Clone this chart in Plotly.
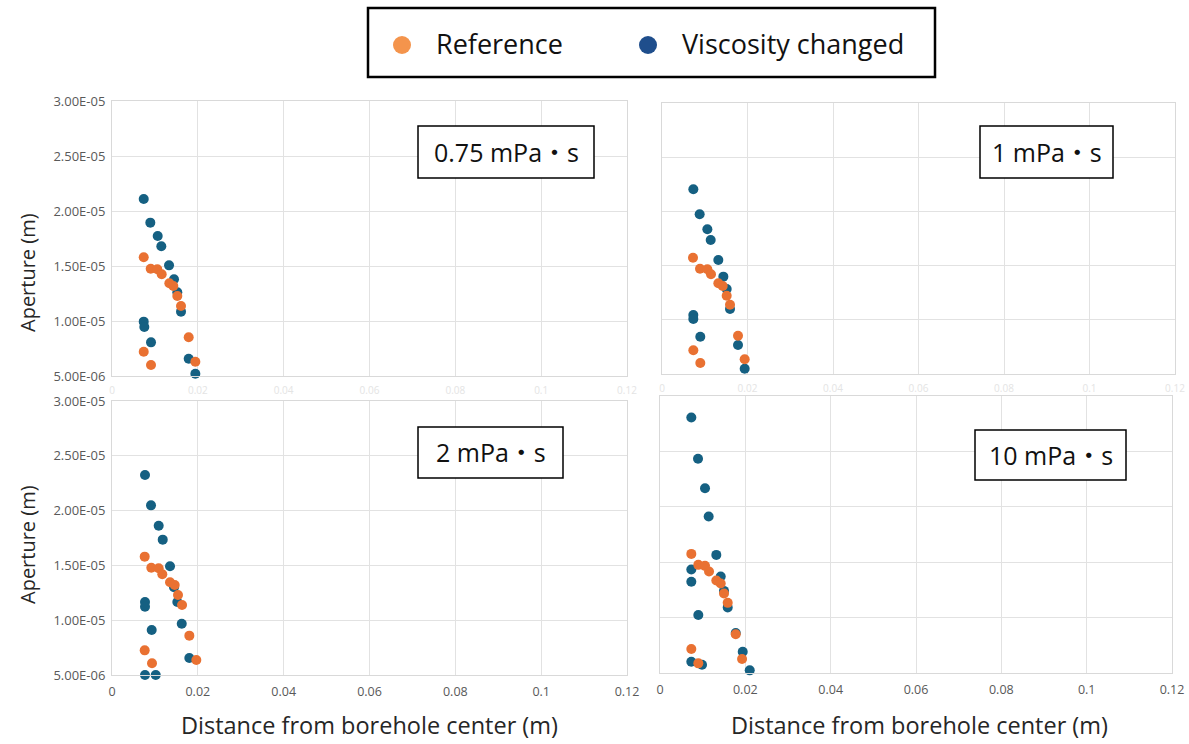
import plotly.graph_objects as go

# ---------------- data (x: distance from borehole center [m], y: aperture [m]) ----------------
ref_075_x = [0.00739, 0.00902, 0.01056, 0.01158, 0.01336, 0.01429, 0.01522, 0.01608, 0.01787, 0.00739, 0.01942, 0.00909]
ref_075_y = [15.79e-6, 14.75e-6, 14.70e-6, 14.25e-6, 13.43e-6, 13.18e-6, 12.27e-6, 11.36e-6, 8.52e-6, 7.21e-6, 6.30e-6, 6.00e-6]
vis_075_x = [0.00739, 0.00893, 0.01065, 0.01149, 0.01329, 0.01445, 0.01522, 0.01608, 0.00739, 0.00753, 0.00909, 0.01787, 0.01942]
vis_075_y = [21.09e-6, 18.94e-6, 17.73e-6, 16.79e-6, 15.06e-6, 13.79e-6, 12.61e-6, 10.85e-6, 9.94e-6, 9.45e-6, 8.06e-6, 6.57e-6, 5.21e-6]

ref_1_x = [0.00725, 0.00889, 0.01061, 0.01146, 0.01318, 0.01420, 0.01513, 0.01591, 0.01778, 0.00733, 0.01934, 0.00896]
ref_1_y = [15.73e-6, 14.71e-6, 14.66e-6, 14.20e-6, 13.37e-6, 13.12e-6, 12.22e-6, 11.39e-6, 8.53e-6, 7.19e-6, 6.36e-6, 6.01e-6]
vis_1_x = [0.00733, 0.00881, 0.01061, 0.01139, 0.01318, 0.01435, 0.01513, 0.01591, 0.00733, 0.00733, 0.00896, 0.01778, 0.01934]
vis_1_y = [22.04e-6, 19.73e-6, 18.35e-6, 17.36e-6, 15.52e-6, 13.98e-6, 12.84e-6, 11.00e-6, 10.44e-6, 10.07e-6, 8.44e-6, 7.68e-6, 5.49e-6]

ref_2_x = [0.00762, 0.00916, 0.01088, 0.01172, 0.01352, 0.01461, 0.01538, 0.01632, 0.01802, 0.00762, 0.01965, 0.00932]
ref_2_y = [15.80e-6, 14.79e-6, 14.74e-6, 14.20e-6, 13.46e-6, 13.21e-6, 12.30e-6, 11.39e-6, 8.59e-6, 7.25e-6, 6.37e-6, 6.07e-6]
vis_2_x = [0.00769, 0.00909, 0.01088, 0.01182, 0.01352, 0.01445, 0.01522, 0.00769, 0.00769, 0.01625, 0.00925, 0.01802, 0.00769, 0.01019]
vis_2_y = [23.25e-6, 20.48e-6, 18.62e-6, 17.35e-6, 14.92e-6, 13.00e-6, 11.66e-6, 11.66e-6, 11.23e-6, 9.68e-6, 9.10e-6, 6.55e-6, 5.00e-6, 5.00e-6]

ref_10_x = [0.00734, 0.00898, 0.01055, 0.01149, 0.01320, 0.01423, 0.01500, 0.01587, 0.01775, 0.00734, 0.01923, 0.00898]
ref_10_y = [15.75e-6, 14.76e-6, 14.67e-6, 14.16e-6, 13.35e-6, 13.08e-6, 12.18e-6, 11.33e-6, 8.49e-6, 7.16e-6, 6.26e-6, 5.87e-6]
vis_10_x = [0.00734, 0.00891, 0.01055, 0.01141, 0.01320, 0.00734, 0.00734, 0.01423, 0.01500, 0.01587, 0.00898, 0.01775, 0.01939, 0.00734, 0.00985, 0.02103]
vis_10_y = [28.06e-6, 24.34e-6, 21.67e-6, 19.12e-6, 15.66e-6, 14.34e-6, 13.23e-6, 13.71e-6, 12.41e-6, 10.92e-6, 10.23e-6, 8.60e-6, 6.92e-6, 6.02e-6, 5.75e-6, 5.24e-6]

panel_labels = ["0.75 mPa・s", "1 mPa・s", "2 mPa・s", "10 mPa・s"]
series_names = ["Reference", "Viscosity changed"]

x_tick_vals = [0, 0.02, 0.04, 0.06, 0.08, 0.1, 0.12]
x_tick_text = ["0", "0.02", "0.04", "0.06", "0.08", "0.1", "0.12"]
y_tick_vals = [5e-6, 1e-5, 1.5e-5, 2e-5, 2.5e-5, 3e-5]
y_tick_text = ["5.00E-06", "1.00E-05", "1.50E-05", "2.00E-05", "2.50E-05", "3.00E-05"]

x_title = "Distance from borehole center (m)"
y_title = "Aperture (m)"

# ---------------- layout helpers ----------------
W, H = 1189, 744
FONT = "Open Sans, Noto Sans CJK JP, sans-serif"
ORANGE = "#E97132"
BLUE = "#156082"
LEG_ORANGE = "#F4944C"
LEG_BLUE = "#1F4E8C"


def fx(p):
    return p / W


def fy(p):
    return 1 - p / H


# panel frames in pixels: (left, right, top, bottom)
frames = [
    (112, 627, 101, 376),
    (662, 1175, 103, 374),
    (112, 627, 401, 675),
    (660, 1172, 396, 673),
]
label_boxes = [
    (418, 594, 126, 178),
    (980, 1113, 126, 178),
    (418, 563, 427, 478),
    (975, 1126, 430, 480),
]

data = [
    (ref_075_x, ref_075_y, vis_075_x, vis_075_y),
    (ref_1_x, ref_1_y, vis_1_x, vis_1_y),
    (ref_2_x, ref_2_y, vis_2_x, vis_2_y),
    (ref_10_x, ref_10_y, vis_10_x, vis_10_y),
]

fig = go.Figure()
layout = dict(
    width=W, height=H,
    margin=dict(l=0, r=0, t=0, b=0, pad=0, autoexpand=False),
    paper_bgcolor="white", plot_bgcolor="white",
    showlegend=False,
    font=dict(family=FONT),
)
shapes = []
annotations = []

for i, ((l, r, t, b), (rx, ry, vx, vy)) in enumerate(zip(frames, data)):
    n = "" if i == 0 else str(i + 1)
    xa, ya = "x" + n, "y" + n
    fig.add_trace(go.Scatter(x=vx, y=vy, mode="markers", name=series_names[1],
                             marker=dict(color=BLUE, size=10), cliponaxis=False,
                             xaxis=xa, yaxis=ya))
    fig.add_trace(go.Scatter(x=rx, y=ry, mode="markers", name=series_names[0],
                             marker=dict(color=ORANGE, size=10), cliponaxis=False,
                             xaxis=xa, yaxis=ya))
    top_row = i < 2
    left_col = i % 2 == 0
    layout["xaxis" + n] = dict(
        domain=[fx(l), fx(r)], anchor=ya, range=[0, 0.12], automargin=False,
        tickvals=x_tick_vals, ticktext=x_tick_text,
        showgrid=True, gridcolor="#e2e2e2", zeroline=False,
        showline=True, mirror=True, linecolor="#d9d9d9", linewidth=1,
        ticks="", ticklabelstandoff=5,
        tickfont=dict(size=10 if top_row else 12.5, color="#e4e4e4" if top_row else "#595959", family=FONT),
    )
    layout["yaxis" + n] = dict(
        domain=[fy(b), fy(t)], anchor=xa, range=[5e-6, 3e-5], automargin=False,
        tickvals=y_tick_vals, ticktext=y_tick_text,
        showticklabels=left_col,
        showgrid=True, gridcolor="#e2e2e2", zeroline=False,
        showline=True, mirror=True, linecolor="#d9d9d9", linewidth=1,
        ticks="", ticklabelstandoff=3,
        tickfont=dict(size=13, color="#595959", family=FONT),
    )
    # viscosity label box
    bl, br, bt, bb = label_boxes[i]
    shapes.append(dict(type="rect", xref="paper", yref="paper",
                       x0=fx(bl), x1=fx(br), y0=fy(bb), y1=fy(bt),
                       line=dict(color="black", width=1.5), fillcolor="white", layer="above"))
    annotations.append(dict(xref="paper", yref="paper", x=fx((bl + br) / 2), y=fy((bt + bb) / 2),
                            text=panel_labels[i], showarrow=False, xanchor="center", yanchor="middle",
                            font=dict(size=25, color="#111111", family=FONT)))

# axis titles
for yc in (273, 545):
    annotations.append(dict(xref="paper", yref="paper", x=fx(27), y=fy(yc), text=y_title,
                            textangle=-90, showarrow=False, xanchor="center", yanchor="middle",
                            font=dict(size=20, color="#262626", family=FONT)))
for xc in (369, 919):
    annotations.append(dict(xref="paper", yref="paper", x=fx(xc), y=fy(742), text=x_title,
                            showarrow=False, xanchor="center", yanchor="bottom", borderpad=0,
                            font=dict(size=23.5, color="#262626", family=FONT)))

# legend box
shapes.append(dict(type="rect", xref="paper", yref="paper", x0=fx(368), x1=fx(935), y0=fy(77), y1=fy(8),
                   line=dict(color="black", width=2.5), fillcolor="white"))
for cx, col in ((402, LEG_ORANGE), (648, LEG_BLUE)):
    shapes.append(dict(type="circle", xref="paper", yref="paper",
                       x0=fx(cx - 9), x1=fx(cx + 9), y0=fy(45 + 9), y1=fy(45 - 9),
                       line=dict(width=0), fillcolor=col))
for tx, name in ((434, series_names[0]), (680, series_names[1])):
    annotations.append(dict(xref="paper", yref="paper", x=fx(tx), y=fy(44), text=name,
                            showarrow=False, xanchor="left", yanchor="middle",
                            font=dict(size=27, color="#111111", family=FONT)))

layout["shapes"] = shapes
layout["annotations"] = annotations
fig.update_layout(**layout)

pin_page = (
    "document.documentElement.style.margin='0';"
    "document.documentElement.style.padding='0';"
    "document.documentElement.style.overflow='hidden';"
    "document.body.style.margin='0';document.body.style.padding='0';"
    "document.body.style.overflow='hidden';"
    "var gd=document.getElementById('{plot_id}');"
    "gd.style.position='fixed';gd.style.left='0px';gd.style.top='0px';"
)
fig.write_html("out.html", config={"displayModeBar": False}, post_script=pin_page)
